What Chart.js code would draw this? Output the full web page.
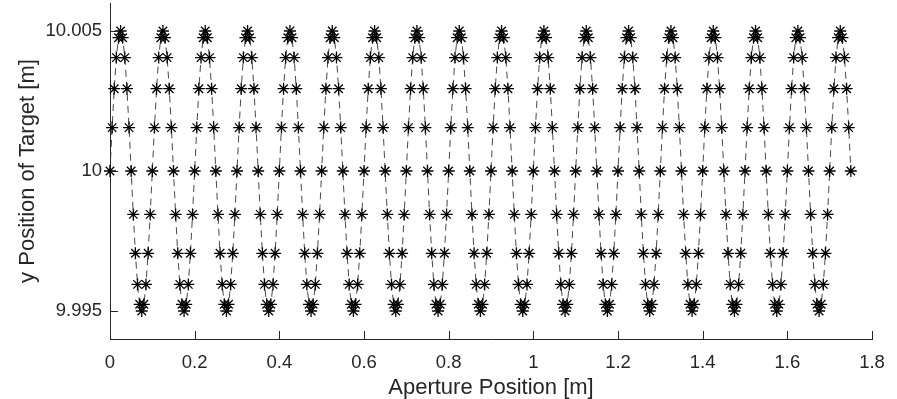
<!DOCTYPE html>
<html>
<head>
<meta charset="utf-8">
<script src="https://cdn.jsdelivr.net/npm/chart.js@4/dist/chart.umd.min.js"></script>
<style>
  html, body { margin: 0; padding: 0; background: #ffffff; }
  #wrap { width: 897px; height: 399px; position: relative; }
</style>
</head>
<body>
<div id="wrap"><canvas id="c" width="897" height="399"></canvas></div>
<script>
// Aperture positions [m]
const aperturePos = [
  0,0.005,0.01,0.015,0.02,0.025,0.03,0.035,0.04,0.045,0.05,0.055,0.06,0.065,0.07,0.075,0.08,0.085,0.09,0.095,
  0.1,0.105,0.11,0.115,0.12,0.125,0.13,0.135,0.14,0.145,0.15,0.155,0.16,0.165,0.17,0.175,0.18,0.185,0.19,0.195,
  0.2,0.205,0.21,0.215,0.22,0.225,0.23,0.235,0.24,0.245,0.25,0.255,0.26,0.265,0.27,0.275,0.28,0.285,0.29,0.295,
  0.3,0.305,0.31,0.315,0.32,0.325,0.33,0.335,0.34,0.345,0.35,0.355,0.36,0.365,0.37,0.375,0.38,0.385,0.39,0.395,
  0.4,0.405,0.41,0.415,0.42,0.425,0.43,0.435,0.44,0.445,0.45,0.455,0.46,0.465,0.47,0.475,0.48,0.485,0.49,0.495,
  0.5,0.505,0.51,0.515,0.52,0.525,0.53,0.535,0.54,0.545,0.55,0.555,0.56,0.565,0.57,0.575,0.58,0.585,0.59,0.595,
  0.6,0.605,0.61,0.615,0.62,0.625,0.63,0.635,0.64,0.645,0.65,0.655,0.66,0.665,0.67,0.675,0.68,0.685,0.69,0.695,
  0.7,0.705,0.71,0.715,0.72,0.725,0.73,0.735,0.74,0.745,0.75,0.755,0.76,0.765,0.77,0.775,0.78,0.785,0.79,0.795,
  0.8,0.805,0.81,0.815,0.82,0.825,0.83,0.835,0.84,0.845,0.85,0.855,0.86,0.865,0.87,0.875,0.88,0.885,0.89,0.895,
  0.9,0.905,0.91,0.915,0.92,0.925,0.93,0.935,0.94,0.945,0.95,0.955,0.96,0.965,0.97,0.975,0.98,0.985,0.99,0.995,
  1,1.005,1.01,1.015,1.02,1.025,1.03,1.035,1.04,1.045,1.05,1.055,1.06,1.065,1.07,1.075,1.08,1.085,1.09,1.095,
  1.1,1.105,1.11,1.115,1.12,1.125,1.13,1.135,1.14,1.145,1.15,1.155,1.16,1.165,1.17,1.175,1.18,1.185,1.19,1.195,
  1.2,1.205,1.21,1.215,1.22,1.225,1.23,1.235,1.24,1.245,1.25,1.255,1.26,1.265,1.27,1.275,1.28,1.285,1.29,1.295,
  1.3,1.305,1.31,1.315,1.32,1.325,1.33,1.335,1.34,1.345,1.35,1.355,1.36,1.365,1.37,1.375,1.38,1.385,1.39,1.395,
  1.4,1.405,1.41,1.415,1.42,1.425,1.43,1.435,1.44,1.445,1.45,1.455,1.46,1.465,1.47,1.475,1.48,1.485,1.49,1.495,
  1.5,1.505,1.51,1.515,1.52,1.525,1.53,1.535,1.54,1.545,1.55,1.555,1.56,1.565,1.57,1.575,1.58,1.585,1.59,1.595,
  1.6,1.605,1.61,1.615,1.62,1.625,1.63,1.635,1.64,1.645,1.65,1.655,1.66,1.665,1.67,1.675,1.68,1.685,1.69,1.695,
  1.7,1.705,1.71,1.715,1.72,1.725,1.73,1.735,1.74,1.745,1.75
];

// Target y positions [m]
const targetY = [
  10,10.00155,10.00294,10.00405,10.00476,10.005,10.00476,10.00405,10.00294,10.00155,10,9.99845,9.99706,9.99595,9.99524,9.995,9.99524,9.99595,9.99706,9.99845,
  10,10.00155,10.00294,10.00405,10.00476,10.005,10.00476,10.00405,10.00294,10.00155,10,9.99845,9.99706,9.99595,9.99524,9.995,9.99524,9.99595,9.99706,9.99845,
  10,10.00155,10.00294,10.00405,10.00476,10.005,10.00476,10.00405,10.00294,10.00155,10,9.99845,9.99706,9.99595,9.99524,9.995,9.99524,9.99595,9.99706,9.99845,
  10,10.00155,10.00294,10.00405,10.00476,10.005,10.00476,10.00405,10.00294,10.00155,10,9.99845,9.99706,9.99595,9.99524,9.995,9.99524,9.99595,9.99706,9.99845,
  10,10.00155,10.00294,10.00405,10.00476,10.005,10.00476,10.00405,10.00294,10.00155,10,9.99845,9.99706,9.99595,9.99524,9.995,9.99524,9.99595,9.99706,9.99845,
  10,10.00155,10.00294,10.00405,10.00476,10.005,10.00476,10.00405,10.00294,10.00155,10,9.99845,9.99706,9.99595,9.99524,9.995,9.99524,9.99595,9.99706,9.99845,
  10,10.00155,10.00294,10.00405,10.00476,10.005,10.00476,10.00405,10.00294,10.00155,10,9.99845,9.99706,9.99595,9.99524,9.995,9.99524,9.99595,9.99706,9.99845,
  10,10.00155,10.00294,10.00405,10.00476,10.005,10.00476,10.00405,10.00294,10.00155,10,9.99845,9.99706,9.99595,9.99524,9.995,9.99524,9.99595,9.99706,9.99845,
  10,10.00155,10.00294,10.00405,10.00476,10.005,10.00476,10.00405,10.00294,10.00155,10,9.99845,9.99706,9.99595,9.99524,9.995,9.99524,9.99595,9.99706,9.99845,
  10,10.00155,10.00294,10.00405,10.00476,10.005,10.00476,10.00405,10.00294,10.00155,10,9.99845,9.99706,9.99595,9.99524,9.995,9.99524,9.99595,9.99706,9.99845,
  10,10.00155,10.00294,10.00405,10.00476,10.005,10.00476,10.00405,10.00294,10.00155,10,9.99845,9.99706,9.99595,9.99524,9.995,9.99524,9.99595,9.99706,9.99845,
  10,10.00155,10.00294,10.00405,10.00476,10.005,10.00476,10.00405,10.00294,10.00155,10,9.99845,9.99706,9.99595,9.99524,9.995,9.99524,9.99595,9.99706,9.99845,
  10,10.00155,10.00294,10.00405,10.00476,10.005,10.00476,10.00405,10.00294,10.00155,10,9.99845,9.99706,9.99595,9.99524,9.995,9.99524,9.99595,9.99706,9.99845,
  10,10.00155,10.00294,10.00405,10.00476,10.005,10.00476,10.00405,10.00294,10.00155,10,9.99845,9.99706,9.99595,9.99524,9.995,9.99524,9.99595,9.99706,9.99845,
  10,10.00155,10.00294,10.00405,10.00476,10.005,10.00476,10.00405,10.00294,10.00155,10,9.99845,9.99706,9.99595,9.99524,9.995,9.99524,9.99595,9.99706,9.99845,
  10,10.00155,10.00294,10.00405,10.00476,10.005,10.00476,10.00405,10.00294,10.00155,10,9.99845,9.99706,9.99595,9.99524,9.995,9.99524,9.99595,9.99706,9.99845,
  10,10.00155,10.00294,10.00405,10.00476,10.005,10.00476,10.00405,10.00294,10.00155,10,9.99845,9.99706,9.99595,9.99524,9.995,9.99524,9.99595,9.99706,9.99845,
  10,10.00155,10.00294,10.00405,10.00476,10.005,10.00476,10.00405,10.00294,10.00155,10
];

const xTickValues = [0, 0.2, 0.4, 0.6, 0.8, 1, 1.2, 1.4, 1.6, 1.8];
const xTickLabels = ['0', '0.2', '0.4', '0.6', '0.8', '1', '1.2', '1.4', '1.6', '1.8'];
const yTickValues = [9.995, 10, 10.005];
const yTickLabels = ['9.995', '10', '10.005'];

const xTitle = 'Aperture Position [m]';
const yTitle = 'y Position of Target [m]';

const FONT = '"Liberation Sans", Arial, Helvetica, sans-serif';
const AXIS_COLOR = '#262626';

const points = aperturePos.map((x, i) => ({ x: x, y: targetY[i] }));

const inwardTicks = {
  id: 'inwardTicks',
  afterDatasetsDraw(chart) {
    const ctx = chart.ctx;
    const xs = chart.scales.x, ys = chart.scales.y;
    const a = chart.chartArea;
    ctx.save();
    ctx.strokeStyle = AXIS_COLOR;
    ctx.lineWidth = 1;
    ctx.beginPath();
    xTickValues.forEach(v => {
      const px = Math.round(xs.getPixelForValue(v)) + 0.5;
      ctx.moveTo(px, a.bottom);
      ctx.lineTo(px, a.bottom - 8);
    });
    yTickValues.forEach(v => {
      const py = Math.round(ys.getPixelForValue(v)) + 0.5;
      ctx.moveTo(a.left, py);
      ctx.lineTo(a.left + 8, py);
    });
    ctx.stroke();
    ctx.restore();
  }
};

new Chart(document.getElementById('c'), {
  type: 'scatter',
  data: {
    datasets: [{
      data: points,
      showLine: true,
      borderColor: '#333333',
      borderWidth: 0.9,
      borderDash: [7, 5],
      pointStyle: 'star',
      pointRadius: 6,
      pointBorderColor: '#000000',
      pointBorderWidth: 1.3,
      pointBackgroundColor: 'rgba(0,0,0,0)',
      tension: 0,
      clip: false
    }]
  },
  options: {
    responsive: false,
    animation: false,
    events: [],
    layout: { autoPadding: false, padding: { top: 3, right: 25, left: 0, bottom: 0 } },
    plugins: { legend: { display: false }, tooltip: { enabled: false } },
    scales: {
      x: {
        type: 'linear',
        min: 0, max: 1.8,
        afterBuildTicks(scale) { scale.ticks = xTickValues.map(v => ({ value: v })); },
        afterFit(scale) { scale.height = 60; scale.paddingLeft = 0; scale.paddingRight = 0; },
        ticks: {
          callback: (v, i) => xTickLabels[i],
          font: { family: FONT, size: 18.5 },
          color: AXIS_COLOR,
          padding: 13,
          maxRotation: 0,
          autoSkip: false
        },
        grid: { display: true, drawOnChartArea: false, drawTicks: false },
        border: { display: true, color: AXIS_COLOR, width: 1 },
        title: {
          display: true, text: xTitle,
          font: { family: FONT, size: 22, lineHeight: 1 },
          color: AXIS_COLOR,
          padding: { top: 0, bottom: 0 }
        }
      },
      y: {
        type: 'linear',
        min: 9.994, max: 10.006,
        afterBuildTicks(scale) { scale.ticks = yTickValues.map(v => ({ value: v })); },
        afterFit(scale) { scale.width = 110; scale.paddingTop = 0; scale.paddingBottom = 0; },
        ticks: {
          callback: (v, i) => yTickLabels[i],
          font: { family: FONT, size: 18.5 },
          color: AXIS_COLOR,
          padding: 8,
          autoSkip: false
        },
        grid: { display: true, drawOnChartArea: false, drawTicks: false },
        border: { display: true, color: AXIS_COLOR, width: 1 },
        title: {
          display: true, text: yTitle,
          font: { family: FONT, size: 22, lineHeight: 1 },
          color: AXIS_COLOR,
          padding: { top: 17, bottom: 0 }
        }
      }
    }
  },
  plugins: [inwardTicks]
});
</script>
</body>
</html>
